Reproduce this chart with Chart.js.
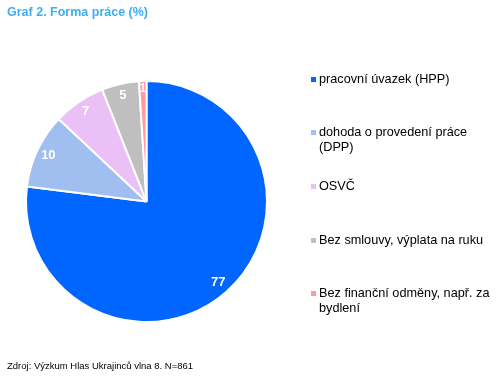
<!DOCTYPE html>
<html>
<head>
<meta charset="utf-8">
<script src="https://cdn.jsdelivr.net/npm/chart.js@4"></script>
<style>
    body { margin: 0; background: #fff; font-family: 'Liberation Sans', Arial, sans-serif; }
    #wrap { position: relative; width: 501px; height: 380px; }
    #title { position: absolute; left: 7px; top: 5px; font-size: 12.5px; font-weight: bold; color: #3daff0; }
    #source { position: absolute; left: 7px; top: 360px; font-size: 9.5px; color: #000; }
    #legend { position: absolute; left: 311px; top: 0; width: 190px; }
    .item { position: absolute; left: 0; font-size: 12.7px; line-height: 15px; color: #000; padding-left: 8px; width: 176px; }
    .item span { position: absolute; left: 0; top: 5px; width: 5px; height: 5px; }
    canvas { position: absolute; left: 0; top: 0; }
</style>
</head>
<body>
<div id="wrap">
    <canvas id="pie" width="501" height="380"></canvas>
    <div id="title">Graf 2. Forma práce (%)</div>
    <div id="legend"></div>
    <div id="source">Zdroj: Výzkum Hlas Ukrajinců vlna 8. N=861</div>
</div>
<script>
// ===== Data =====
const categories = [
    'pracovní úvazek (HPP)',
    'dohoda o provedení práce (DPP)',
    'OSVČ',
    'Bez smlouvy, výplata na ruku',
    'Bez finanční odměny, např. za bydlení'
];
const values = [77, 10, 7, 5, 1];
const colors = ['#0066ff', '#a0bef0', '#ebc0f7', '#bfbfbf', '#ff9b9b'];

// legend rows (top of each entry)
const legendTops = [72, 125, 179, 233, 286];

// Build HTML legend
const legend = document.getElementById('legend');
categories.forEach((name, i) => {
    const div = document.createElement('div');
    div.className = 'item';
    div.style.top = legendTops[i] + 'px';
    div.innerHTML = '<span style="background:' + colors[i] + '"></span>' + name;
    legend.appendChild(div);
});

// Value labels inside slices
const sliceLabels = {
    id: 'sliceLabels',
    afterDatasetsDraw(chart) {
        const ctx = chart.ctx;
        const meta = chart.getDatasetMeta(0);
        ctx.save();
        ctx.fillStyle = '#fff';
        ctx.font = "bold 13px 'Liberation Sans', Arial, sans-serif";
        ctx.textAlign = 'center';
        ctx.textBaseline = 'middle';
        meta.data.forEach((arc, i) => {
            const mid = (arc.startAngle + arc.endAngle) / 2;
            const r = arc.outerRadius * (values[i] < 3 ? 0.94 : 0.9);
            ctx.fillText(String(values[i]), arc.x + Math.cos(mid) * r, arc.y + Math.sin(mid) * r);
        });
        ctx.restore();
    }
};

new Chart(document.getElementById('pie').getContext('2d'), {
    type: 'pie',
    data: {
        labels: categories,
        datasets: [{
            data: values,
            backgroundColor: colors,
            borderColor: '#fff',
            borderWidth: 2
        }]
    },
    options: {
        responsive: false,
        animation: false,
        layout: { padding: { left: 25, top: 80, right: 233, bottom: 57 } },
        plugins: {
            legend: { display: false },
            tooltip: { enabled: false }
        }
    },
    plugins: [sliceLabels]
});
</script>
</body>
</html>
